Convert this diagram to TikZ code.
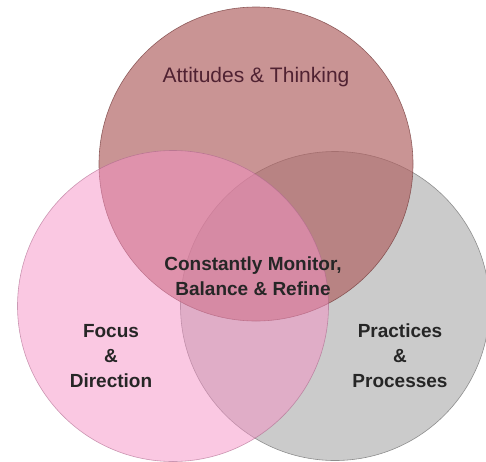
\documentclass[tikz,border=0pt]{standalone}
\usepackage{fontspec}
\setmainfont{Liberation Sans}
\definecolor{practicegray}{RGB}{203,203,203}
\definecolor{attitudered}{RGB}{175,96,96}
\definecolor{focuspink}{RGB}{245,145,197}
\definecolor{attitudetext}{RGB}{80,34,50}
\tikzset{
  ring/.style={circle, inner sep=0pt, draw=#1!70!black, line width=0.6pt},
  label text/.style={align=center, inner sep=0pt, font=\fontsize{19}{25}\selectfont\bfseries, text=black!85}
}
\begin{document}
\begin{tikzpicture}[x=1pt, y=-1pt]
        \useasboundingbox (0,0) rectangle (486,461);
        % Circles
        \node (practice) [ring=practicegray, fill=practicegray, minimum size=309pt] at (335,306) {};
        \node (attitude) [ring=attitudered, fill=attitudered, fill opacity=0.67, draw opacity=0.8, minimum size=314pt] at (256,164) {};
        \node (focus) [ring=focuspink, fill=focuspink, fill opacity=0.5, draw opacity=0.6, minimum size=311pt] at (173,306) {};

        % Labels
        \node (attitudelbl) [label text, font=\fontsize{21}{25}\selectfont, text=attitudetext] at (256,77) {Attitudes \& Thinking};
        \node (centrelbl) [label text] at (253,276) {Constantly Monitor,\\Balance \& Refine};
        \node (focuslbl) [label text] at (111,356) {Focus\\\&\\Direction};
        \node (practicelbl) [label text] at (400,356) {Practices\\\&\\Processes};
    \end{tikzpicture}
\end{document}
